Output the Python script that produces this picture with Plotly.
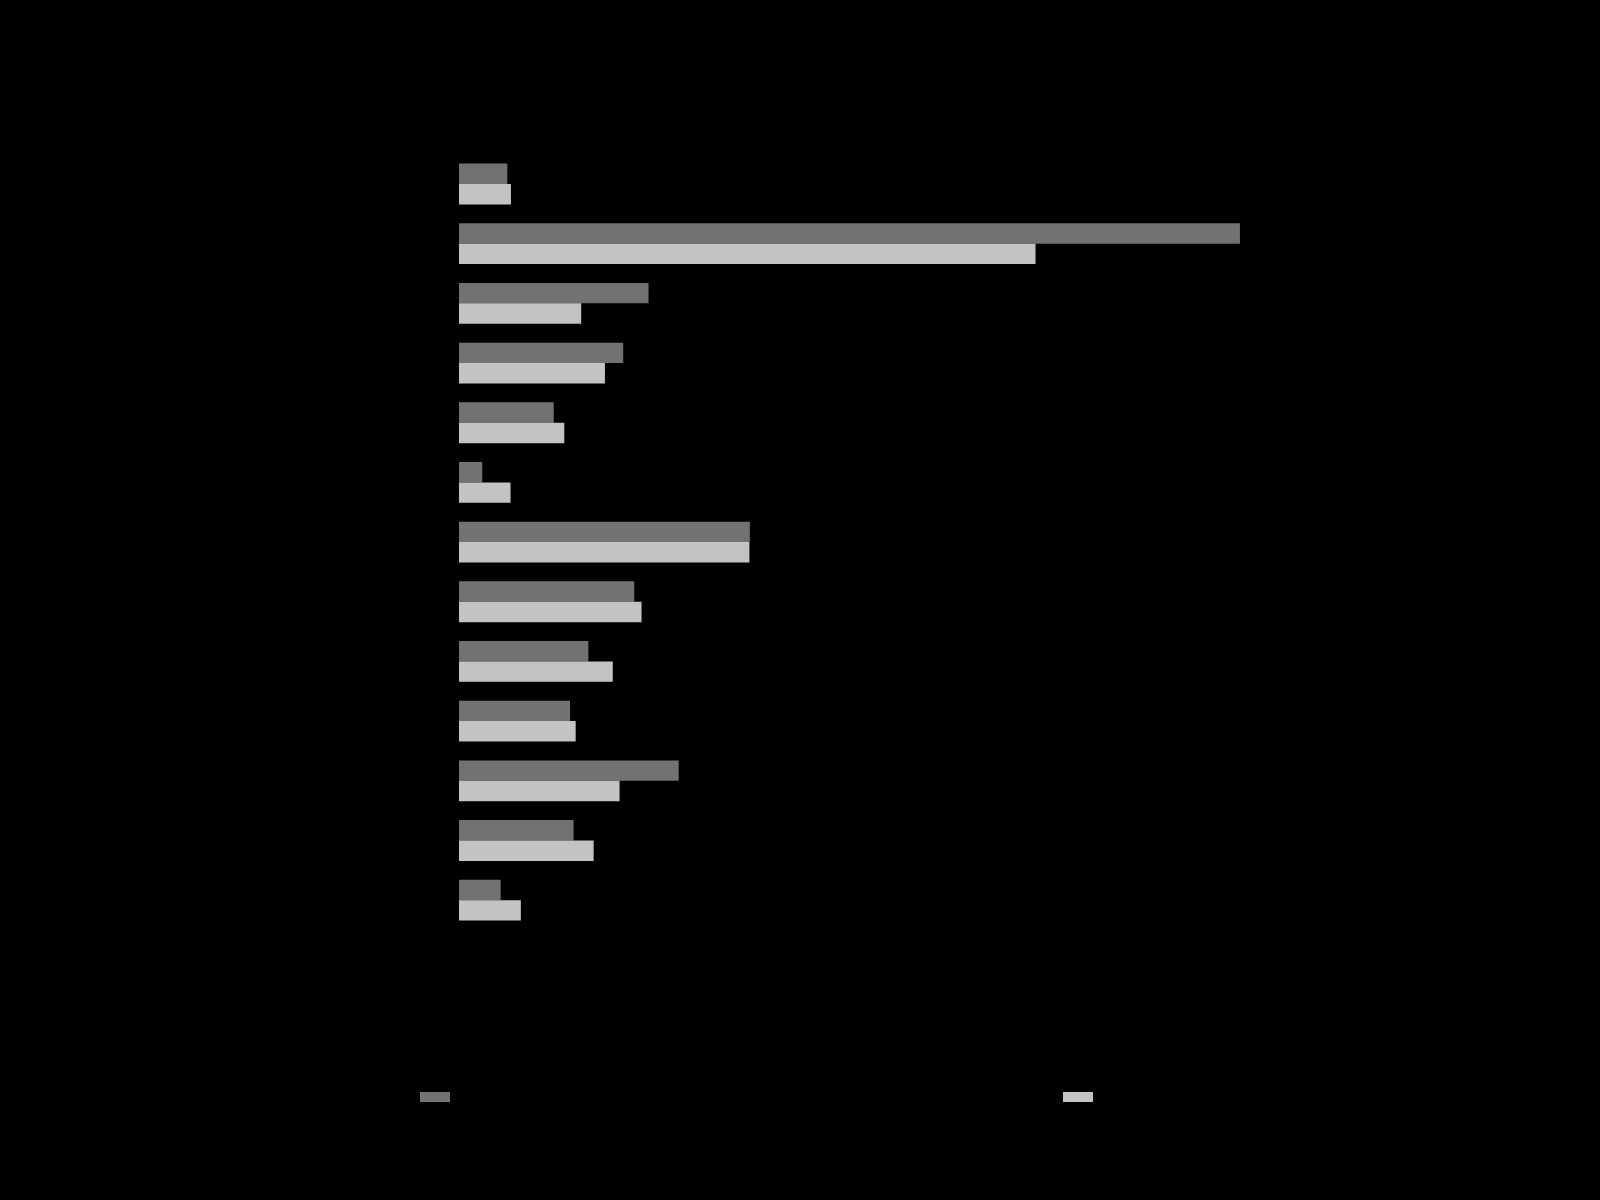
import plotly.graph_objects as go

categories = ["Borgholzhausen", "Gütersloh", "Halle", "Harsewinkel", "Herzebrock-Clarholz",
              "Langenberg", "Rheda-Wiedenbrück", "Rietberg", "Schloß Holte-Stukenbrock",
              "Steinhagen", "Verl", "Versmold", "Werther"]
arbeitsort = [3262, 52686, 12787, 11080, 6390, 1570, 19622, 11826, 8728, 7492, 14819, 7730, 2810]
wohnort = [3505, 38896, 8243, 9846, 7105, 3477, 19591, 12316, 10376, 7872, 10832, 9085, 4174]
tick_vals = [0, 10000, 20000, 30000, 40000, 50000, 60000]
tick_text = ["0", "10.000", "20.000", "30.000", "40.000", "50.000", "60.000"]
series_names = ["SV Beschäftigte am Arbeitsort", "SV Beschäftigte am Wohnort"]

FONT = "Liberation Sans, Arial, sans-serif"
TXT = "#000000"
BG = "#000000"
DARK = "#727272"
LIGHT = "#c3c3c3"


def de(v):
    return f"{v:,}".replace(",", ".")


fig = go.Figure()
for vals, name, col in [(arbeitsort, series_names[0], DARK), (wohnort, series_names[1], LIGHT)]:
    fig.add_trace(go.Bar(y=categories, x=vals, orientation="h", name=name, showlegend=False,
                         marker=dict(color=col, line=dict(width=0))))
for name, col, lg in zip(series_names, [DARK, LIGHT], ["legend", "legend2"]):
    fig.add_trace(go.Scatter(x=[None], y=[None], mode="lines", name=name, legend=lg,
                             line=dict(color=col, width=12)))

annotations = []
for c, a, w in zip(categories, arbeitsort, wohnort):
    annotations.append(dict(x=a, y=c, xref="x", yref="y", text=de(a), showarrow=False,
                            xanchor="right", yanchor="middle", xshift=83, yshift=12,
                            font=dict(family=FONT, size=26, color=TXT)))
    annotations.append(dict(x=w, y=c, xref="x", yref="y", text=de(w), showarrow=False,
                            xanchor="right", yanchor="middle", xshift=83, yshift=-13,
                            font=dict(family=FONT, size=26, color=TXT)))

annotations.append(dict(text="Dargestellt wird die Zahl der sozialversicherungspflichtig Beschäftigten am Arbeitsort und am Wohnort.",
                        xref="paper", yref="paper", x=-0.4799, y=1.0992, xanchor="left", yanchor="middle",
                        showarrow=False, font=dict(family=FONT, size=28, color=TXT)))
annotations.append(dict(text="Quelle: Bundesagentur für Arbeit, Stichtag: 30.06.2015",
                        xref="paper", yref="paper", x=-0.4799, y=-0.3067, xanchor="left", yanchor="middle",
                        showarrow=False, font=dict(family=FONT, size=25.5, color=TXT, style="italic")))
annotations.append(dict(text="Darstellung: EWAS",
                        xref="paper", yref="paper", x=1.2242, y=-0.3067, xanchor="right", yanchor="middle",
                        showarrow=False, font=dict(family=FONT, size=25.5, color=TXT, style="italic")))

legend_common = dict(orientation="h", y=-0.2152, xanchor="left", yanchor="middle",
                     font=dict(family=FONT, size=30, color=TXT), bgcolor="rgba(0,0,0,0)")

fig.update_layout(
    width=1600, height=1200,
    paper_bgcolor=BG, plot_bgcolor=BG,
    margin=dict(l=459, r=222, t=154, b=270),
    barmode="group", bargap=0.316, bargroupgap=0,
    font=dict(family=FONT, color=TXT),
    title=dict(text="Vergleich der Beschäftigten am Arbeits- und am Wohnort",
               xref="container", yref="container", x=18 / 1600, y=1 - 41 / 1200,
               xanchor="left", yanchor="middle", font=dict(family=FONT, size=40, color=TXT)),
    xaxis=dict(range=[0, 62000], tickvals=tick_vals, ticktext=tick_text, showgrid=False, zeroline=False,
               showline=False, ticks="", ticklabelstandoff=32,
               tickfont=dict(family=FONT, size=28, color=TXT),
               title=dict(text="Sozialversicherungspflichtig Beschäftigte", standoff=30,
                          font=dict(family=FONT, size=33, color=TXT))),
    yaxis=dict(autorange="reversed", showgrid=False, zeroline=False, showline=False, ticks="",
               ticklabelstandoff=20, tickfont=dict(family=FONT, size=33, color=TXT)),
    legend=dict(x=(415 - 459) / 919, **legend_common),
    legend2=dict(x=(1058 - 459) / 919, **legend_common),
    annotations=annotations,
)

fig.write_html("out.html", config={"displayModeBar": False},
               post_script="document.body.style.margin='0';")
